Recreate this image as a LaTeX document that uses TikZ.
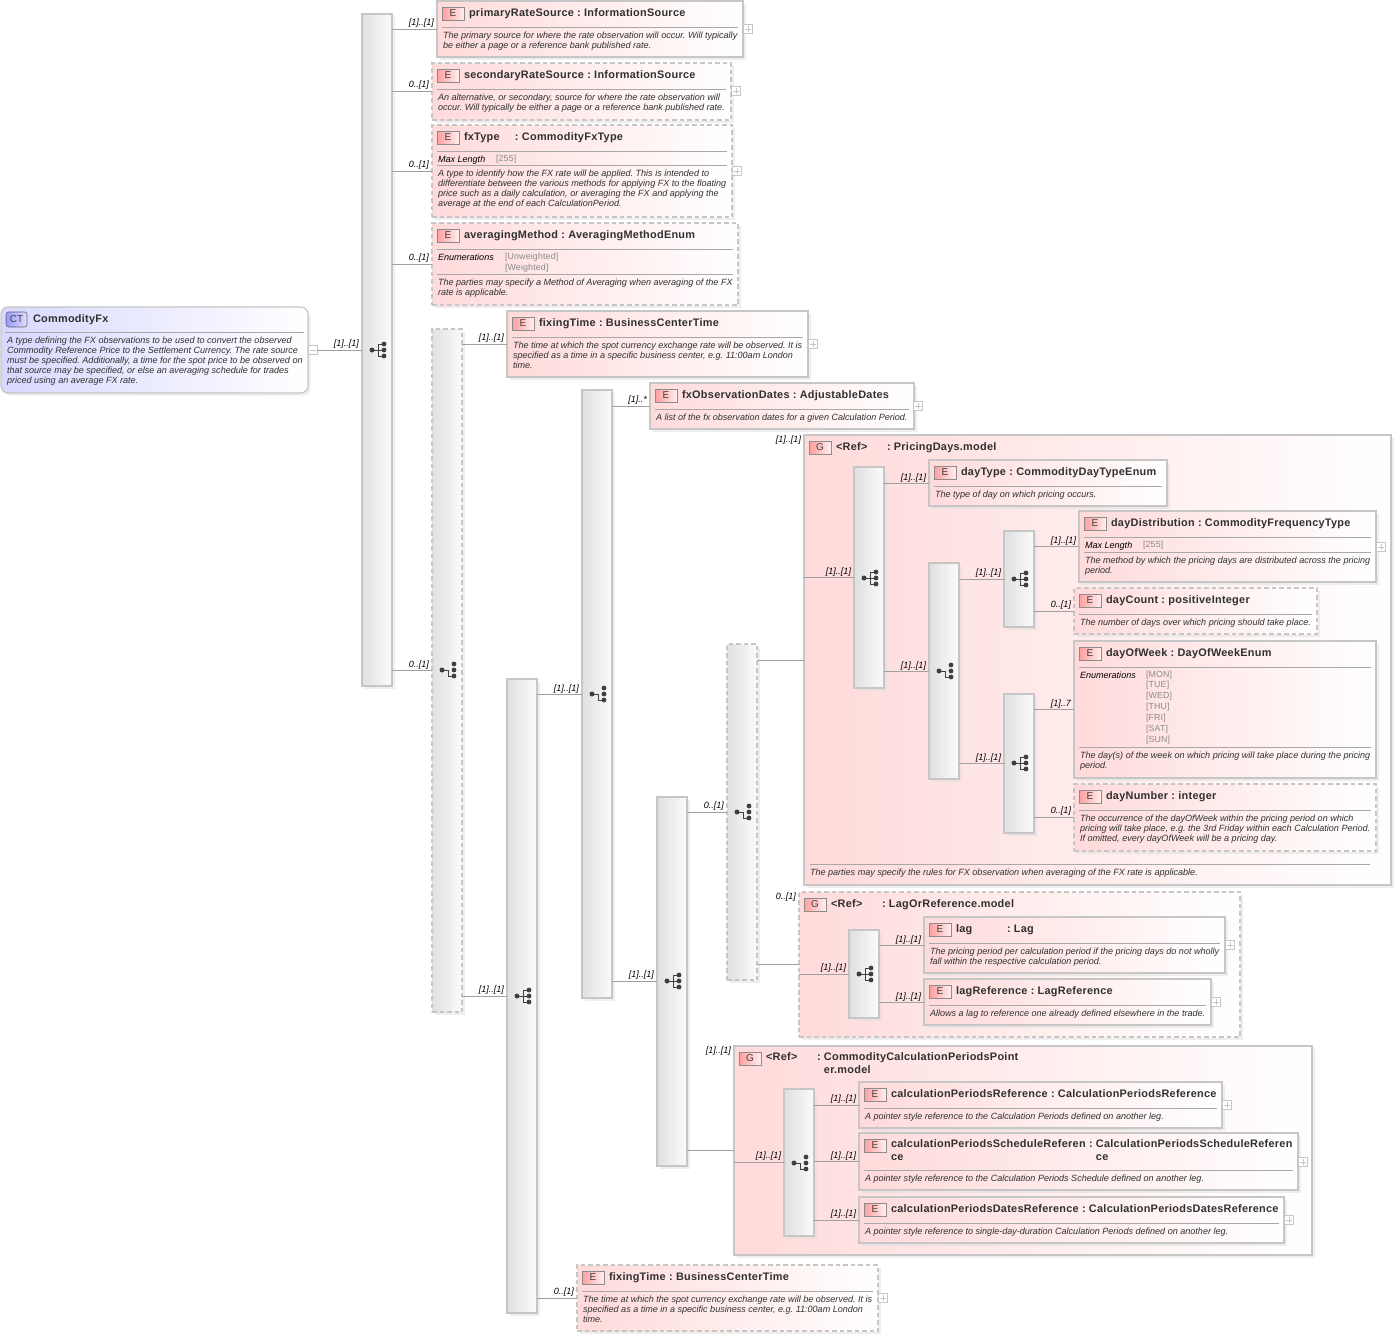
\documentclass[tikz,border=0pt]{standalone}
\usepackage{fontspec}
\setmainfont{Liberation Sans}
\newfontfamily\ttlfont[LetterSpace=2.5]{Liberation Sans}
\newfontfamily\facfont[LetterSpace=2]{Liberation Sans}
\AtBeginDocument{\frenchspacing}
\usetikzlibrary{shadows}
\definecolor{elpink}{HTML}{FFDADA}
\definecolor{ctblue}{HTML}{D8D8FF}
\definecolor{edge}{HTML}{C6C6C6}
\definecolor{barl}{HTML}{E0E0E0}
\definecolor{barr}{HTML}{FBFBFB}
\definecolor{conn}{HTML}{A0A0A0}
\definecolor{sepc}{HTML}{A8A8A8}
\definecolor{ink}{HTML}{303030}
\definecolor{facet}{HTML}{8A8A8A}
\definecolor{icon}{HTML}{404040}
\tikzset{
  frame/.style={anchor=north west,inner sep=0pt,outer sep=0pt,draw=edge,line width=1.15pt,
    drop shadow={shadow xshift=2.5pt,shadow yshift=-2.5pt,fill=black!13}},
  elbox/.style={frame,left color=elpink,right color=white},
  elboxd/.style={elbox,dash pattern=on 4.5pt off 3pt},
  ctbox/.style={frame,rounded corners=7pt,left color=ctblue,right color=white},
  barbox/.style={frame,left color=barl,right color=barr},
  barboxd/.style={barbox,dash pattern=on 4.5pt off 3pt},
  badge/.style={anchor=north west,inner sep=0pt,outer sep=0pt,draw=black!45,line width=.6pt,
    left color=red!38!white,right color=red!6!white,text=black!75,
    minimum width=22pt,minimum height=13pt,font=\fontsize{10}{10}\selectfont},
  ctbadge/.style={badge,rounded corners=2.5pt,left color=blue!40!white,right color=blue!12!white,
    minimum width=21pt,minimum height=15pt,draw=black!60},
  ttl/.style={anchor=north west,inner sep=0pt,outer sep=0pt,align=left,text=ink,yshift=9pt,
    font=\fontsize{10.9}{13}\ttlfont\bfseries,execute at begin node={\rule{0pt}{9pt}}},
  dsc/.style={anchor=north west,inner sep=0pt,outer sep=0pt,align=left,text=ink,yshift=8pt,
    font=\fontsize{9.05}{10}\selectfont\itshape,execute at begin node={\rule{0pt}{8pt}}},
  fac/.style={dsc,text=facet,font=\fontsize{8.8}{10.85}\facfont},
  fackey/.style={dsc,text=black},
  card/.style={anchor=east,inner sep=0pt,outer sep=0pt,text=black,font=\fontsize{9.05}{10}\selectfont\itshape},
  sepl/.style={draw=sepc,line width=.7pt},
  wire/.style={draw=conn,line width=.75pt},
  plusbox/.style={draw=edge,fill=white,line width=.6pt,inner sep=0pt,outer sep=0pt,minimum size=8.5pt,
    path picture={\draw[edge,line width=.6pt] (path picture bounding box.west)++(1.5pt,0pt)--++(5.5pt,0pt);
    \draw[edge,line width=.6pt] (path picture bounding box.north)++(0pt,-1.5pt)--++(0pt,-5.5pt);}},
  minusbox/.style={draw=edge,fill=white,line width=.6pt,inner sep=0pt,outer sep=0pt,minimum size=8.5pt,
    path picture={\draw[edge,line width=.6pt] (path picture bounding box.west)++(1.5pt,0pt)--++(5.5pt,0pt);}}
}
\newcommand{\Frm}[6]{\node[#2,minimum width={(#5-#3)*1pt},minimum height={(#6-#4)*1pt}] (#1) at (#3,#4) {};}
% element: id, style, x0,y0,x1,y1, title, badge letter
\newcommand{\El}[8]{%
  \Frm{#1}{#2}{#3}{#4}{#5}{#6}
  \node[badge] (#1b) at (#3+5,#4+6) {#8};
  \node[ttl] (#1t) at (#3+32,#4+15.5) {#7};
  \draw[sepl] (#3+5,#4+26) -- (#5-5,#4+26);}
\newcommand{\Dsc}[4]{\node[dsc] (#1) at (#2,#3+4.9) {#4};}
\newcommand{\Dss}[4]{\node[dsc] (#1) at (#2,#3+3.2) {#4};}
\newcommand{\Cell}[2]{\makebox[#1pt][l]{#2}}
\newcommand{\Plus}[3]{\node[plusbox] (#1) at (#2,#3) {};}
\newcommand{\Crd}[4]{\node[card] (#1) at (#2,#3+1) {#4};}
\newcommand{\Seq}[2]{%
  \draw[icon,line width=.9pt] (#1-5,#2) -- (#1+1,#2) (#1+1,#2-6) -- (#1+1,#2+6) (#1+1,#2-6) -- (#1+7,#2-6) (#1+1,#2) -- (#1+7,#2) (#1+1,#2+6) -- (#1+7,#2+6);
  \fill[icon] (#1-5,#2) circle (2.5pt) (#1+7,#2-6) circle (2.4pt) (#1+7,#2) circle (2.4pt) (#1+7,#2+6) circle (2.4pt);}
\newcommand{\Cho}[2]{%
  \draw[icon,line width=.9pt] (#1-5,#2) -- (#1+1,#2) -- (#1+1,#2+6) -- (#1+7,#2+6);
  \fill[icon] (#1-5,#2) circle (2.5pt) (#1+7,#2-6) circle (2.4pt) (#1+7,#2) circle (2.4pt) (#1+7,#2+6) circle (2.4pt);}
\begin{document}
\begin{tikzpicture}[x=1pt,y=-1pt]
\useasboundingbox (0,0) rectangle (1397,1339);
\fill[white] (0,0) rectangle (1397,1339);
% complex type
\Frm{ct}{ctbox}{1}{307}{308}{393}
\node[ctbadge] (ctb) at (6,312) {CT};
\node[ttl] (ctt) at (33,322) {CommodityFx};
\draw[sepl] (5,332) -- (304,332);
\Dsc{ctd}{7}{340}{A type defining the FX observations to be used to convert the observed\\Commodity Reference Price to the Settlement Currency. The rate source\\must be specified. Additionally, a time for the spot price to be observed on\\that source may be specified, or else an averaging schedule for trades\\priced using an average FX rate.}
\node[minusbox] (ctm) at (313,350) {};
% compositor bars, outer
\Frm{b1}{barbox}{362}{14}{392}{686}
\Frm{b2}{barboxd}{432}{329}{462}{1012}
\Frm{b3}{barbox}{507}{679}{537}{1313}
\Frm{b4}{barbox}{582}{390}{612}{998}
\Frm{b5}{barbox}{657}{797}{687}{1166}
\Frm{b6}{barboxd}{727}{644}{757}{980}
\Seq{377}{350}\Cho{447}{670}\Seq{522}{996}\Cho{597}{694}\Seq{672}{981}\Cho{742}{812}
% top elements
\El{pr}{elbox}{437}{1}{743}{57}{primaryRateSource : InformationSource}{E}
\Dsc{prd}{443}{35}{The primary source for where the rate observation will occur. Will typically\\be either a page or a reference bank published rate.}
\Plus{prp}{748}{29}
\El{se}{elboxd}{432}{63}{731}{120}{secondaryRateSource : InformationSource}{E}
\Dsc{sed}{438}{97}{An alternative, or secondary, source for where the rate observation will\\occur. Will typically be either a page or a reference bank published rate.}
\Plus{sep}{736}{91}
\El{fx}{elboxd}{432}{125}{732}{217}{\Cell{51}{fxType}: CommodityFxType}{E}
\node[fackey] (fxk) at (438,162.5) {Max Length};
\node[fac] (fxv) at (496,161.5) {[255]};
\draw[sepl] (437,165) -- (727,165);
\Dsc{fxd}{438}{173}{A type to identify how the FX rate will be applied. This is intended to\\differentiate between the various methods for applying FX to the floating\\price such as a daily calculation, or averaging the FX and applying the\\average at the end of each CalculationPeriod.}
\Plus{fxp}{737}{171}
\El{av}{elboxd}{432}{223}{738}{305}{averagingMethod : AveragingMethodEnum}{E}
\node[fackey] (avk) at (438,260.5) {Enumerations};
\node[fac] (avv) at (505,261.3) {{[Unweighted]}\\{[Weighted]}};
\draw[sepl] (437,274) -- (733,274);
\Dsc{avd}{438}{282}{The parties may specify a Method of Averaging when averaging of the FX\\rate is applicable.}
\El{ft}{elbox}{507}{311}{808}{377}{fixingTime : BusinessCenterTime}{E}
\Dsc{ftd}{513}{345}{The time at which the spot currency exchange rate will be observed. It is\\specified as a time in a specific business center, e.g. 11:00am London\\time.}
\Plus{ftp}{813}{344}
\El{fo}{elbox}{650}{383}{914}{429}{fxObservationDates : AdjustableDates}{E}
\Dss{fod}{656}{417}{A list of the fx observation dates for a given Calculation Period.}
\Plus{fop}{918}{406}
% group PricingDays
\Frm{g1}{elbox}{804}{435}{1391}{885}
\node[badge] (g1b) at (809,441) {G};
\node[ttl] (g1t) at (836,450.5) {\Cell{51}{<Ref>}: PricingDays.model};
\draw[sepl] (810,864) -- (1370,864);
\Dss{g1d}{810}{872}{The parties may specify the rules for FX observation when averaging of the FX rate is applicable.}
\Frm{g1a}{barbox}{854}{467}{884}{688}
\Frm{g1c}{barbox}{929}{563}{959}{779}
\Frm{g1e}{barbox}{1004}{531}{1034}{627}
\Frm{g1f}{barbox}{1004}{694}{1034}{833}
\Seq{869}{578}\Cho{944}{671}\Seq{1019}{579}\Seq{1019}{763}
\El{dt}{elbox}{929}{460}{1167}{506}{dayType : CommodityDayTypeEnum}{E}
\Dss{dtd}{935}{494}{The type of day on which pricing occurs.}
\El{dd}{elbox}{1079}{511}{1376}{582}{dayDistribution : CommodityFrequencyType}{E}
\node[fackey] (ddk) at (1085,548.5) {Max Length};
\node[fac] (ddv) at (1143,547.5) {[255]};
\draw[sepl] (1084,552) -- (1371,552);
\Dsc{ddd}{1085}{560}{The method by which the pricing days are distributed across the pricing\\period.}
\Plus{ddp}{1381}{547}
\El{dc}{elboxd}{1074}{588}{1317}{634}{dayCount : positiveInteger}{E}
\Dss{dcd}{1080}{622}{The number of days over which pricing should take place.}
\El{dw}{elbox}{1074}{641}{1376}{778}{dayOfWeek : DayOfWeekEnum}{E}
\node[fackey] (dwk) at (1080,678.5) {Enumerations};
\node[fac] (dwv) at (1146,678.7) {{[MON]}\\{[TUE]}\\{[WED]}\\{[THU]}\\{[FRI]}\\{[SAT]}\\{[SUN]}};
\draw[sepl] (1079,747) -- (1371,747);
\Dsc{dwd}{1080}{755}{The day(s) of the week on which pricing will take place during the pricing\\period.}
\El{dn}{elboxd}{1074}{784}{1376}{851}{dayNumber : integer}{E}
\Dsc{dnd}{1080}{818}{The occurrence of the dayOfWeek within the pricing period on which\\pricing will take place, e.g. the 3rd Friday within each Calculation Period.\\If omitted, every dayOfWeek will be a pricing day.}
% group LagOrReference
\Frm{g2}{elboxd}{799}{892}{1240}{1037}
\node[badge] (g2b) at (804,898) {G};
\node[ttl] (g2t) at (831,907.5) {\Cell{51}{<Ref>}: LagOrReference.model};
\Frm{g2a}{barbox}{849}{930}{879}{1018}
\Seq{864}{974}
\El{lg}{elbox}{924}{917}{1225}{973}{\Cell{51}{lag}: Lag}{E}
\Dsc{lgd}{930}{951}{The pricing period per calculation period if the pricing days do not wholly\\fall within the respective calculation period.}
\Plus{lgp}{1230}{945}
\El{lr}{elbox}{924}{979}{1211}{1025}{lagReference : LagReference}{E}
\Dss{lrd}{930}{1013}{Allows a lag to reference one already defined elsewhere in the trade.}
\Plus{lrp}{1216}{1002}
% group CalculationPeriods
\Frm{g3}{elbox}{734}{1046}{1312}{1255}
\node[badge] (g3b) at (739,1052) {G};
\node[ttl] (g3t) at (766,1061.5) {\Cell{51}{<Ref>}: CommodityCalculationPeriodsPoint\\\Cell{51}{}\phantom{: }er.model};
\Frm{g3a}{barbox}{784}{1089}{814}{1236}
\Cho{799}{1163}
\El{cr}{elbox}{859}{1082}{1222}{1128}{calculationPeriodsReference : CalculationPeriodsReference}{E}
\Dss{crd}{865}{1116}{A pointer style reference to the Calculation Periods defined on another leg.}
\Plus{crp}{1227}{1105}
\Frm{cs}{elbox}{859}{1133}{1298}{1190}
\node[badge] (csb) at (864,1139) {E};
\node[ttl] (cst) at (891,1148.5) {calculationPeriodsScheduleReferen\\ce};
\node[ttl] (csu) at (1089,1148.5) {: CalculationPeriodsScheduleReferen\\\phantom{: }ce};
\draw[sepl] (864,1170) -- (1293,1170);
\Dss{csd}{865}{1178}{A pointer style reference to the Calculation Periods Schedule defined on another leg.}
\Plus{csp}{1303}{1162}
\El{cd}{elbox}{859}{1197}{1284}{1243}{calculationPeriodsDatesReference : CalculationPeriodsDatesReference}{E}
\Dss{cdd}{865}{1231}{A pointer style reference to single-day-duration Calculation Periods defined on another leg.}
\Plus{cdp}{1289}{1220}
% last element
\El{fz}{elboxd}{577}{1265}{878}{1331}{fixingTime : BusinessCenterTime}{E}
\Dsc{fzd}{583}{1299}{The time at which the spot currency exchange rate will be observed. It is\\specified as a time in a specific business center, e.g. 11:00am London\\time.}
\Plus{fzp}{883}{1298}
% connectors
\draw[wire] (ctm.east) -- (b1.west);
\draw[wire] (b1.east |- pr.west) -- (pr.west);
\draw[wire] (b1.east |- se.west) -- (se.west);
\draw[wire] (b1.east |- fx.west) -- (fx.west);
\draw[wire] (b1.east |- av.west) -- (av.west);
\draw[wire] (b1.east |- b2.west) -- (b2.west);
\draw[wire] (b2.east |- ft.west) -- (ft.west);
\draw[wire] (b2.east |- b3.west) -- (b3.west);
\draw[wire] (b3.east |- b4.west) -- (b4.west);
\draw[wire] (b3.east |- fz.west) -- (fz.west);
\draw[wire] (b4.east |- fo.west) -- (fo.west);
\draw[wire] (b4.east |- b5.west) -- (b5.west);
\draw[wire] (b5.east |- b6.west) -- (b6.west);
\draw[wire] (b5.east |- g3.west) -- (g3.west);
\draw[wire] (b6.east |- g1.west) -- (g1.west);
\draw[wire] (b6.east |- g2.west) -- (g2.west);
\draw[wire] (g1.west |- g1a.west) -- (g1a.west);
\draw[wire] (g1a.east |- dt.west) -- (dt.west);
\draw[wire] (g1a.east |- g1c.west) -- (g1c.west);
\draw[wire] (g1c.east |- g1e.west) -- (g1e.west);
\draw[wire] (g1c.east |- g1f.west) -- (g1f.west);
\draw[wire] (g1e.east |- dd.west) -- (dd.west);
\draw[wire] (g1e.east |- dc.west) -- (dc.west);
\draw[wire] (g1f.east |- dw.west) -- (dw.west);
\draw[wire] (g1f.east |- dn.west) -- (dn.west);
\draw[wire] (g2.west |- g2a.west) -- (g2a.west);
\draw[wire] (g2a.east |- lg.west) -- (lg.west);
\draw[wire] (g2a.east |- lr.west) -- (lr.west);
\draw[wire] (g3.west |- g3a.west) -- (g3a.west);
\draw[wire] (g3a.east |- cr.west) -- (cr.west);
\draw[wire] (g3a.east |- cs.west) -- (cs.west);
\draw[wire] (g3a.east |- cd.west) -- (cd.west);
% cardinalities
\Crd{c1}{359}{343}{[1]..[1]}
\Crd{c2}{434}{22}{[1]..[1]}
\Crd{c3}{429}{84}{0..[1]}
\Crd{c4}{429}{164}{0..[1]}
\Crd{c5}{429}{257}{0..[1]}
\Crd{c6}{429}{664}{0..[1]}
\Crd{c7}{504}{337}{[1]..[1]}
\Crd{c8}{504}{989}{[1]..[1]}
\Crd{c9}{579}{688}{[1]..[1]}
\Crd{c10}{574}{1291}{0..[1]}
\Crd{c11}{647}{399}{[1]..*}
\Crd{c12}{654}{974}{[1]..[1]}
\Crd{c13}{724}{805}{0..[1]}
\Crd{c14}{801}{439}{[1]..[1]}
\Crd{c15}{796}{896}{0..[1]}
\Crd{c16}{731}{1050}{[1]..[1]}
\Crd{c17}{851}{571}{[1]..[1]}
\Crd{c18}{926}{477}{[1]..[1]}
\Crd{c19}{926}{665}{[1]..[1]}
\Crd{c20}{1001}{572}{[1]..[1]}
\Crd{c21}{1001}{757}{[1]..[1]}
\Crd{c22}{1076}{540}{[1]..[1]}
\Crd{c23}{1071}{604}{0..[1]}
\Crd{c24}{1071}{703}{[1]..7}
\Crd{c25}{1071}{810}{0..[1]}
\Crd{c26}{846}{967}{[1]..[1]}
\Crd{c27}{921}{939}{[1]..[1]}
\Crd{c28}{921}{996}{[1]..[1]}
\Crd{c29}{781}{1155}{[1]..[1]}
\Crd{c30}{856}{1098}{[1]..[1]}
\Crd{c31}{856}{1155}{[1]..[1]}
\Crd{c32}{856}{1213}{[1]..[1]}
\end{tikzpicture}
\end{document}
